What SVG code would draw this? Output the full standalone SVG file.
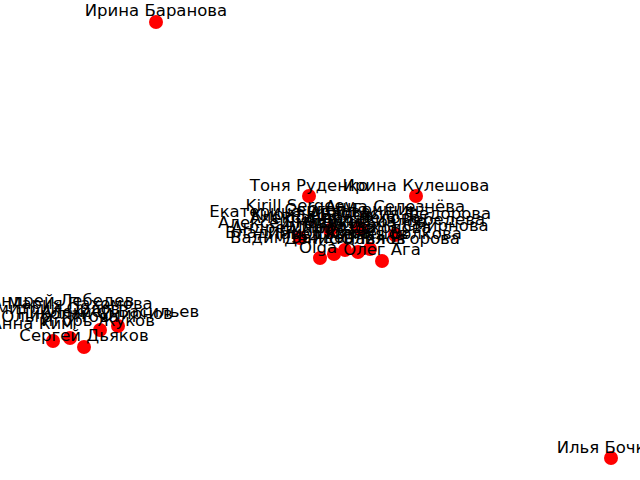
<svg xmlns="http://www.w3.org/2000/svg" width="640" height="480" viewBox="0 0 640 480">
<style>
.n{fill:#ff0000}
.l{font-family:"DejaVu Sans",sans-serif;font-size:16.5px;fill:#000;text-anchor:middle}
</style>
<rect width="640" height="480" fill="#fff"/>
<g id="edges"></g>
<g id="node-baranova"><circle class="n" cx="156" cy="22" r="7"/><text class="l" x="156" y="16">Ирина Баранова</text></g>
<g id="node-bochk"><circle class="n" cx="611" cy="458" r="7"/><text class="l" x="611" y="453">Илья Бочков</text></g>
<g id="node-rudenko"><circle class="n" cx="309" cy="196" r="7"/><text class="l" x="309" y="191">Тоня Руденко</text></g>
<g id="node-kuleshova"><circle class="n" cx="416" cy="196" r="7"/><text class="l" x="416" y="191">Ирина Кулешова</text></g>
<g id="cluster-center">
<circle class="n" cx="320" cy="258" r="7"/><circle class="n" cx="334" cy="254" r="7"/><circle class="n" cx="345" cy="250" r="7"/><circle class="n" cx="358" cy="252" r="7"/><circle class="n" cx="370" cy="249" r="7"/><circle class="n" cx="382" cy="261" r="7"/>
<circle class="n" cx="300" cy="238" r="7"/><circle class="n" cx="330" cy="230" r="7"/><circle class="n" cx="360" cy="228" r="7"/><circle class="n" cx="395" cy="235" r="7"/>
<text class="l" x="300" y="211">Kirill Sergeev</text>
<text class="l" x="395" y="212">Анна Селезнёва</text>
<text class="l" x="290" y="217">Екатерина Орлова</text>
<text class="l" x="352" y="215">Сергей Гришин</text>
<text class="l" x="400" y="219">Анастасия Фёдорова</text>
<text class="l" x="312" y="220">Кирилл Белов</text>
<text class="l" x="335" y="223">Александра Белова</text>
<text class="l" x="395" y="225">Анастасия Лебедева</text>
<text class="l" x="293" y="228">Алексей Новиков</text>
<text class="l" x="355" y="227">Дмитрий Козлов</text>
<text class="l" x="408" y="231">Татьяна Смирнова</text>
<text class="l" x="303" y="233">Андрей Морозов</text>
<text class="l" x="360" y="233">Мария Соколова</text>
<text class="l" x="298" y="238">Владимир Попов</text>
<text class="l" x="388" y="239">Евгения Волкова</text>
<text class="l" x="338" y="239">Павел Кузнецов</text>
<text class="l" x="292" y="243">Вадим Зайцев</text>
<text class="l" x="345" y="244">Денис Павлов</text>
<text class="l" x="398" y="244">Юлия Егорова</text>
<text class="l" x="318" y="253">Olga</text>
<text class="l" x="382" y="255">Олег Ага</text>
</g>
<g id="cluster-left">
<circle class="n" cx="53" cy="341" r="7"/><circle class="n" cx="70" cy="338" r="7"/><circle class="n" cx="84" cy="347" r="7"/><circle class="n" cx="100" cy="330" r="7"/><circle class="n" cx="118" cy="326" r="7"/>
<text class="l" x="62" y="306">Андрей Лебедев</text>
<text class="l" x="80" y="309">Мария Пахомова</text>
<text class="l" x="120" y="317">Алексей Васильев</text>
<text class="l" x="52" y="314">Дмитрий Орлов</text>
<text class="l" x="95" y="319">Николай Смирнов</text>
<text class="l" x="60" y="322">Ольга Титова</text>
<text class="l" x="98" y="326">Игорь Жуков</text>
<text class="l" x="32" y="329">Анна Ким</text>
<text class="l" x="84" y="341">Сергей Дьяков</text>
</g>
</svg>
